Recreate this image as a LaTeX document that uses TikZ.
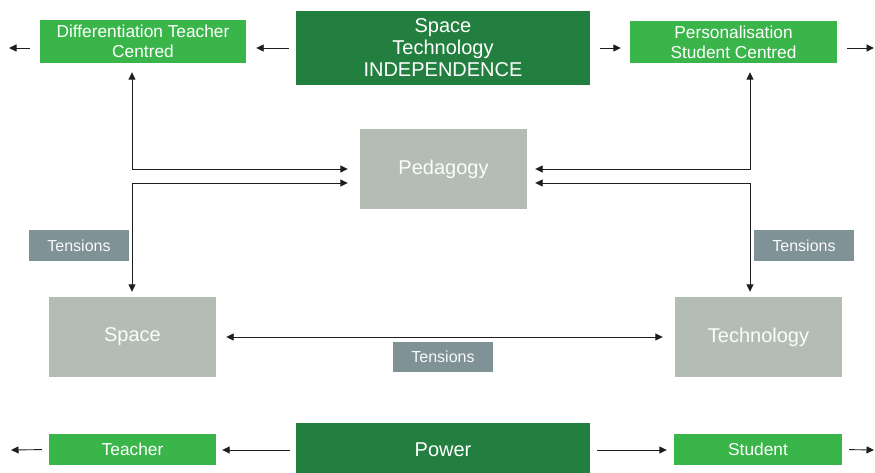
\documentclass[tikz,border=0pt]{standalone}
\usepackage{fontspec}
\setmainfont{Liberation Sans}
\usetikzlibrary{arrows.meta}

\definecolor{leaf}{HTML}{3AB54A}
\definecolor{forest}{HTML}{237F3F}
\definecolor{sage}{HTML}{B3BDB6}
\definecolor{slate}{HTML}{7F9296}
\definecolor{ink}{HTML}{1E1E1E}

\tikzset{
  box/.style={draw=none, inner sep=0pt, align=center, text=white},
  lightbox/.style={box, fill=leaf, font=\fontsize{17.3}{20}\selectfont},
  darkbox/.style={box, fill=forest, font=\fontsize{20}{22}\selectfont},
  greybox/.style={box, fill=sage, text=white!95!sage, font=\fontsize{20}{22}\selectfont,
                  minimum width=167pt, minimum height=80pt},
  tensbox/.style={box, fill=slate, text=white!95!slate, font=\fontsize{16}{18}\selectfont,
                  minimum width=100pt, minimum height=31pt},
  arr/.style={draw=ink, line width=0.9pt, -{Triangle[length=7.5pt,width=7pt]}},
  dblarr/.style={draw=ink, line width=0.9pt,
    {Triangle[length=7.5pt,width=7pt]}-{Triangle[length=7.5pt,width=7pt]}}
}

\begin{document}
\begin{tikzpicture}[x=1pt, y=-1pt]
  \useasboundingbox (0,0) rectangle (875,473);
  \clip (0,0) rectangle (875,473);

  % top row
  \node[lightbox, minimum width=206pt, minimum height=43pt] (diff) at (143,41.5)
    {Differentiation Teacher\\Centred};
  \node[darkbox, minimum width=294pt, minimum height=74pt] (st) at (443,48)
    {Space\\Technology\\INDEPENDENCE};
  \node[lightbox, minimum width=207pt, minimum height=42pt] (pers) at (733.5,42)
    {Personalisation\\Student Centred};

  % middle
  \node[greybox] (ped) at (443.5,169) {Pedagogy};
  \node[tensbox] (tl) at (79,245.5) {Tensions};
  \node[tensbox] (tr) at (804,245.5) {Tensions};
  \node[greybox] (space) at (132.5,337) {Space};
  \node[greybox] (tech) at (758.5,337) {Technology};
  \node[tensbox, minimum height=30pt] (tc) at (443,357) {Tensions};

  % bottom row
  \node[lightbox, minimum width=167pt, minimum height=31pt] (teach) at (132.5,449.5) {Teacher};
  \node[darkbox, minimum width=294pt, minimum height=54pt] (power) at (443,450) {Power};
  \node[lightbox, minimum width=168pt, minimum height=31pt] (stud) at (758,449.5) {Student};

  % free ends and bends
  \coordinate (tL) at (9,48);
  \coordinate (tR) at (874,48);
  \coordinate (bL) at (11,450);
  \coordinate (bR) at (874,450);
  \coordinate (lt) at (132,169);
  \coordinate (lb) at (132,183);
  \coordinate (rt) at (750,169);
  \coordinate (rb) at (750,183);
  \coordinate (mid) at (443,337);

  % top row arrows
  \draw[arr, shorten <=10pt] (diff.west |- st.west) -- (tL);
  \draw[arr, shorten <=7pt, shorten >=10pt] (st.west) -- (st.west -| diff.east);
  \draw[arr, shorten <=10pt, shorten >=9pt] (st.east) -- (st.east -| pers.west);
  \draw[arr, shorten <=10pt] (pers.east |- st.east) -- (tR);

  % links through pedagogy
  \draw[dblarr, shorten <=9pt, shorten >=12pt] (lt |- diff.south) -- (lt) -- (lt -| ped.west);
  \draw[dblarr, shorten <=12pt, shorten >=5pt] (lb -| ped.west) -- (lb) -- (lb |- space.north);
  \draw[dblarr, shorten <=9pt, shorten >=8pt] (rt |- pers.south) -- (rt) -- (rt -| ped.east);
  \draw[dblarr, shorten <=8pt, shorten >=5pt] (rb -| ped.east) -- (rb) -- (rb |- tech.north);

  % space <-> technology
  \draw[dblarr, shorten <=10pt, shorten >=12pt] (mid -| space.east) -- (mid -| tech.west);

  % bottom row arrows
  \draw[arr, shorten <=7pt] (teach.west) -- (bL);
  \draw[arr, shorten <=6pt, shorten >=6pt] (power.west) -- (power.west -| teach.east);
  \draw[arr, shorten <=7pt, shorten >=7pt] (power.east) -- (power.east -| stud.west);
  \draw[arr, shorten <=7pt] (stud.east) -- (bR);
\end{tikzpicture}
\end{document}
